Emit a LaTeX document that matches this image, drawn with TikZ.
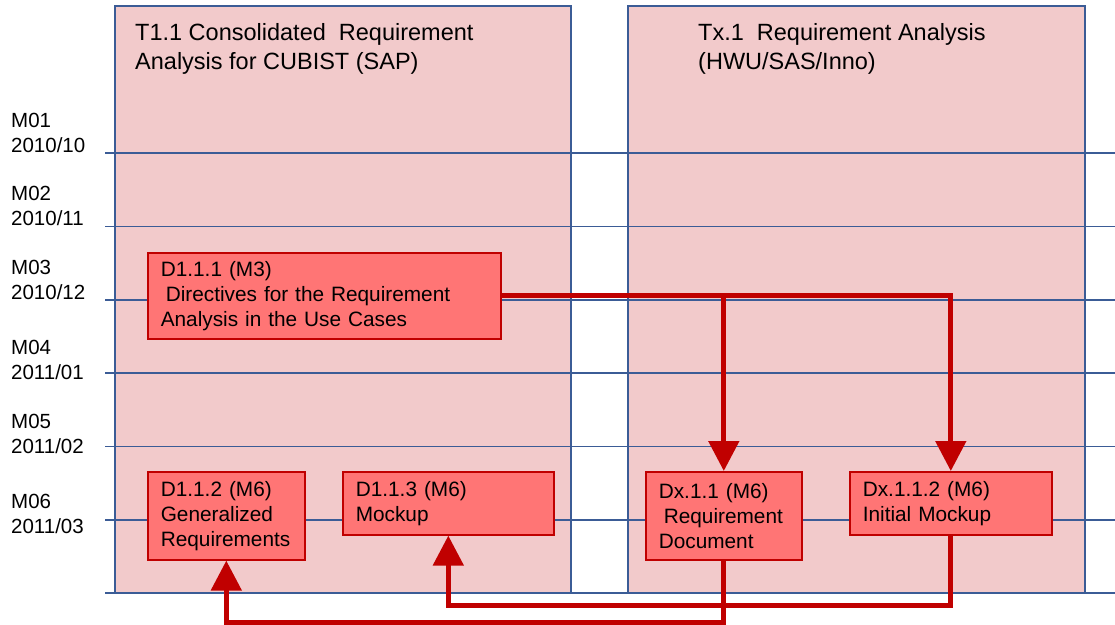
\documentclass[tikz,border=0pt]{standalone}
\usepackage{fontspec}
\setmainfont{Liberation Sans}
\usetikzlibrary{arrows.meta}

\definecolor{panelpink}{RGB}{242,202,203}
\definecolor{gridblue}{RGB}{59,92,150}
\definecolor{boxfill}{RGB}{255,117,117}
\definecolor{boxred}{RGB}{192,0,0}

\newcommand{\titlefont}{\fontsize{23.5}{29}\selectfont}
\newcommand{\monthfont}{\fontsize{20.5}{25}\selectfont}
\newcommand{\boxfont}{\fontsize{20.8}{25}\selectfont}

\tikzset{
    panel/.style={draw=gridblue, fill=panelpink, line width=1.3pt},
    gridline/.style={draw=gridblue, line width=1.5pt},
    deliv/.style={draw=boxred, fill=boxfill, line width=1.6pt, anchor=north west,
        align=left, inner xsep=13pt, inner ysep=0pt, font=\boxfont},
    conn/.style={draw=boxred, line width=5pt, miter limit=4,
        -{Triangle[width=30pt,length=30pt]}},
}

\begin{document}
\begin{tikzpicture}[x=1pt, y=-1pt]
    \useasboundingbox (0,0) rectangle (1115,624);

    % task panels
    \draw[panel] (115,6) rectangle (571,593);
    \draw[panel] (628,6) rectangle (1085,593);

    % titles
    \node[anchor=west, align=left, inner sep=0pt, font=\titlefont] (t11) at (135,48.5)
        {T1.1 Consolidated\ \ Requirement\\Analysis for CUBIST (SAP)};
    \node[anchor=west, align=left, inner sep=0pt, font=\titlefont] (tx1) at (698,48.5)
        {Tx.1\ \ Requirement Analysis\\(HWU/SAS/Inno)};

    % month lines and labels
    \foreach \m/\d/\ly [count=\i] in {M01/{2010/10}/133, M02/{2010/11}/206,
                                     M03/{2010/12}/280, M04/{2011/01}/360,
                                     M05/{2011/02}/434, M06/{2011/03}/514} {
        \draw[gridline] (105,{79.6+73.4*\i}) -- (1115,{79.6+73.4*\i});
        \node[anchor=west, align=left, inner sep=0pt, font=\monthfont] (m\i)
            at (11,\ly) {\m\\\d};
    }
    \draw[gridline] (105,593) -- (1115,593);

    % deliverables
    \node[deliv, text width=327pt, minimum height=86pt] (d111) at (147,252)
        {D1.1.1 (M3)\\\hspace*{5pt}Directives for the Requirement\\Analysis in the Use Cases};
    \node[deliv, text width=131pt, minimum height=88pt] (d112) at (147,471)
        {D1.1.2 (M6)\\Generalized\\Requirements};
    \node[deliv, text width=185pt, minimum height=63pt] (d113) at (342,471)
        {D1.1.3 (M6)\\Mockup};
    \node[deliv, text width=130pt, minimum height=88pt] (dx11) at (645,471)
        {Dx.1.1 (M6)\\\hspace*{5pt}Requirement\\Document};
    \node[deliv, text width=176pt, minimum height=63pt] (dx112) at (849,471)
        {Dx.1.1.2 (M6)\\Initial Mockup};

    % connectors
    \coordinate (lowA) at (0,622);
    \coordinate (lowB) at (0,605);
    \draw[conn] (d111.east) -| (dx112.north);
    \draw[conn] (d111.east -| dx11.north) -- (dx11.north);
    \draw[conn] (dx11.south) -- (dx11.south |- lowA) -| (d112.south);
    \draw[conn] (dx112.south) -- (dx112.south |- lowB) -| (d113.south);

\end{tikzpicture}
\end{document}
